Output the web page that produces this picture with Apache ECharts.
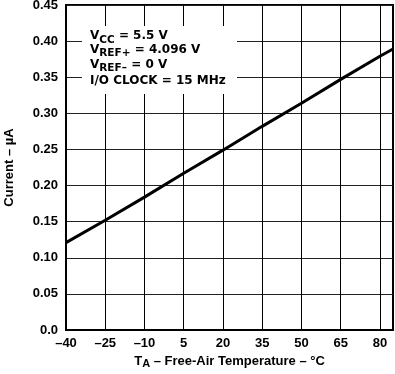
<!DOCTYPE html>
<html><head><meta charset="utf-8">
<script src="https://cdn.jsdelivr.net/npm/echarts@6/dist/echarts.min.js"></script>
<style>html,body{margin:0;padding:0;background:#fff}#c{width:395px;height:374px}</style>
</head><body><div id="c"></div>
<script>
// Data
const temps = [-40, -25, -10, 5, 20, 35, 50, 65, 80, 85];
const current = [0.121, 0.152, 0.184, 0.217, 0.249, 0.282, 0.314, 0.347, 0.379, 0.389];
const xTickLabels = ['–40', '–25', '–10', '5', '20', '35', '50', '65', '80'];
const yTickLabels = ['0.0', '0.05', '0.10', '0.15', '0.20', '0.25', '0.30', '0.35', '0.40', '0.45'];
const X_MIN = -40, X_MAX = 85, X_STEP = 15;

const FONT = "'Liberation Sans', Arial, Helvetica, sans-serif";
const NOTE_FONT = "'DejaVu Sans', sans-serif";

const chart = echarts.init(document.getElementById('c'), null, {renderer: 'canvas'});

const seriesData = temps.map((t, i) => [t - X_MIN, current[i]]);

const noteRich = {
  m: {fontFamily: NOTE_FONT, fontWeight: 'bold', fontSize: 12, lineHeight: 14, color: '#000', verticalAlign: 'top'},
  s: {fontFamily: NOTE_FONT, fontWeight: 'bold', fontSize: 10.5, lineHeight: 14, color: '#000', verticalAlign: 'top', padding: [4.5, 0, 0, 0]}
};

function noteText(y, text) {
  return {type: 'text', x: 90, y: y, z: 51,
    style: {text: text, rich: noteRich, verticalAlign: 'top', align: 'left'}};
}

chart.setOption({
  animation: false,
  backgroundColor: '#fff',
  grid: {left: 66, right: 2, top: 5, bottom: 44, outerBoundsMode: 'none', containLabel: false,
    show: true, borderColor: '#000', borderWidth: 2, backgroundColor: 'transparent'},
  xAxis: {
    type: 'value', min: 0, max: X_MAX - X_MIN, interval: X_STEP,
    axisLine: {show: true, lineStyle: {color: '#000', width: 2}},
    axisTick: {show: false},
    splitLine: {show: true, lineStyle: {color: '#000', width: 1}},
    axisLabel: {
      color: '#000', fontFamily: FONT, fontWeight: 'bold', fontSize: 13, margin: 7,
      formatter: v => { const i = Math.round(v / X_STEP); return (Math.abs(v - i * X_STEP) < 1e-6 && i < xTickLabels.length) ? xTickLabels[i] : ''; }
    },
    name: '{m|T}{s|A}{m| – Free-Air Temperature – °C}',
    nameLocation: 'middle', nameGap: 22,
    nameTextStyle: {
      color: '#000',
      rich: {
        m: {fontFamily: FONT, fontWeight: 'bold', fontSize: 13, lineHeight: 15, color: '#000', verticalAlign: 'top'},
        s: {fontFamily: FONT, fontWeight: 'bold', fontSize: 11, lineHeight: 15, color: '#000', verticalAlign: 'top', padding: [4, 0, 0, 0]}
      }
    }
  },
  yAxis: {
    type: 'value', min: 0, max: 0.45, interval: 0.05,
    axisLine: {show: true, lineStyle: {color: '#000', width: 2}},
    axisTick: {show: false},
    splitLine: {show: true, lineStyle: {color: '#222', width: 1}},
    axisLabel: {
      color: '#000', fontFamily: FONT, fontWeight: 'bold', fontSize: 13, margin: 8,
      formatter: v => yTickLabels[Math.round(v / 0.05)] || ''
    },
    name: 'Current – µA', nameLocation: 'middle', nameRotate: 90, nameGap: 50,
    nameTextStyle: {color: '#000', fontFamily: FONT, fontWeight: 'bold', fontSize: 13}
  },
  graphic: [
    {type: 'rect', shape: {x: 82, y: 26, width: 155, height: 68}, style: {fill: '#fff'}, z: 50},
    noteText(30, '{m|V}{s|CC}{m| = 5.5 V}'),
    noteText(43.5, '{m|V}{s|REF+}{m| = 4.096 V}'),
    noteText(58.5, '{m|V}{s|REF–}{m| = 0 V}'),
    noteText(75, '{m|I/O CLOCK = 15 MHz}')
  ],
  series: [{
    type: 'line', data: seriesData, symbol: 'none', z: 60,
    lineStyle: {color: '#000', width: 3}
  }]
});
</script></body></html>
